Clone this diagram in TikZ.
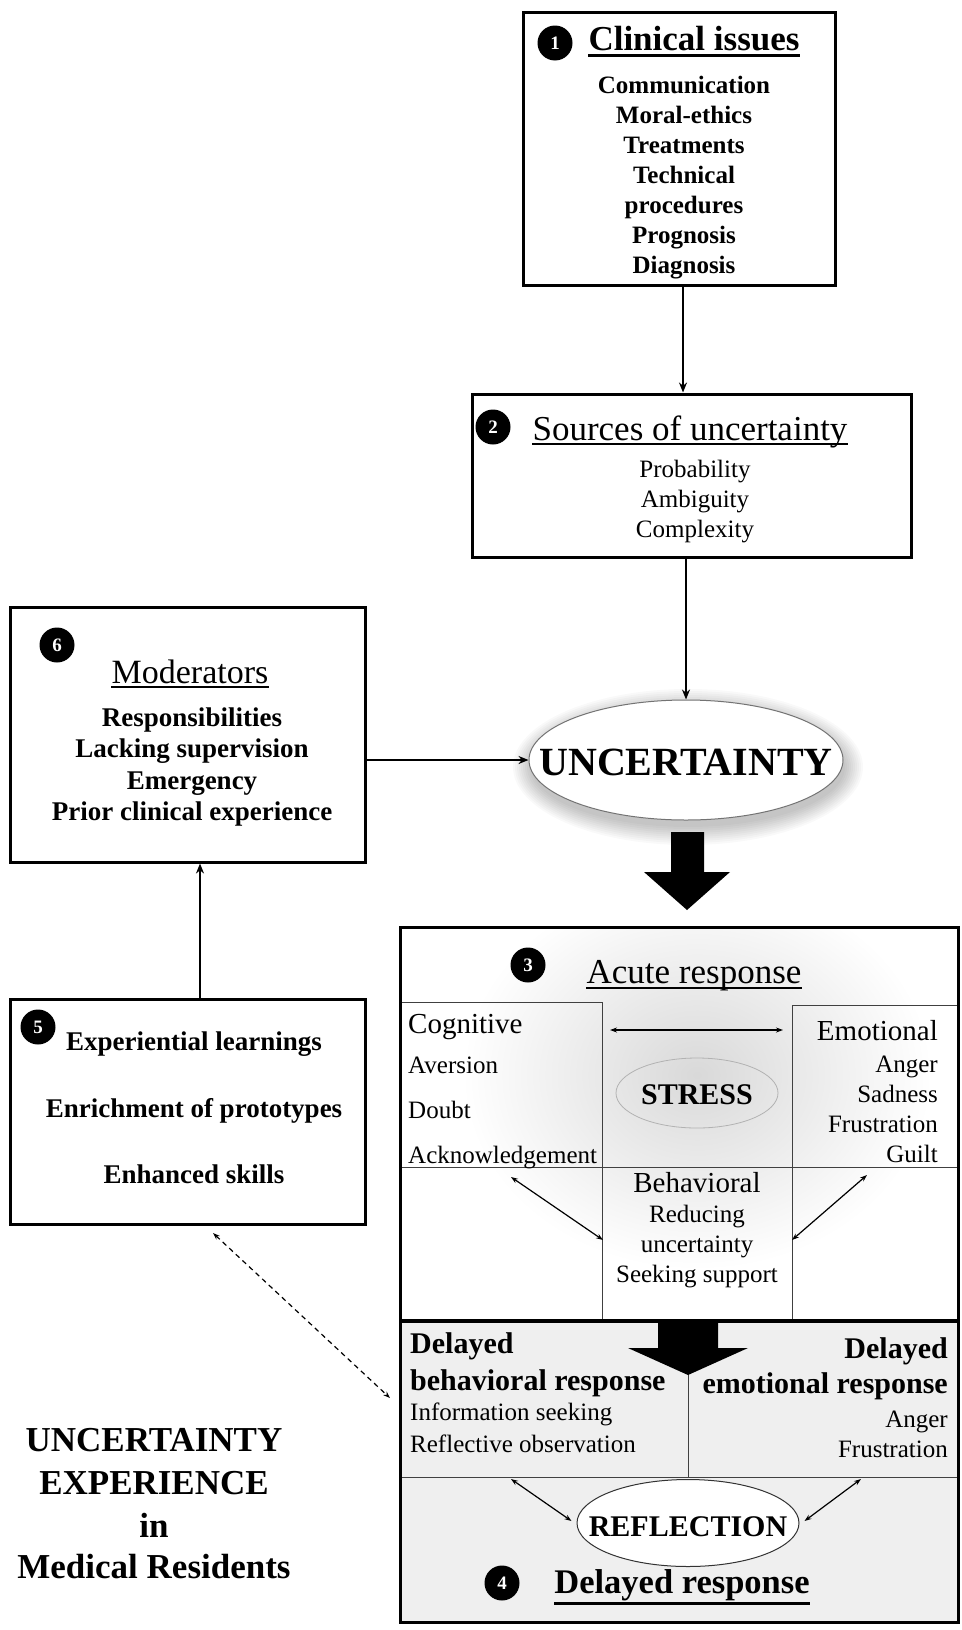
\documentclass[tikz,border=0pt]{standalone}
\usepackage{fontspec}
\setmainfont{Liberation Serif}
\usetikzlibrary{arrows.meta,shapes.geometric}
\newcommand\fsz[1]{\fontsize{#1}{#1}\selectfont}
\definecolor{delgray}{HTML}{EFEFEF}
\begin{document}
\begin{tikzpicture}[x=1pt,y=-1pt,
  box/.style={draw, line width=3pt, inner sep=0pt},
  badge/.style={circle, fill=black, text=white, inner sep=0pt, minimum size=35pt, font=\fsz{19}\bfseries},
  tb/.style={inner sep=0pt, anchor=base},
  tbl/.style={inner sep=0pt, anchor=base west},
  tbr/.style={inner sep=0pt, anchor=base east},
  ttlr/.style={font=\fsz{35}},
  ttlb/.style={font=\fsz{35}\bfseries},
  itr/.style={font=\fsz{25}},
  itb/.style={font=\fsz{25}\bfseries},
  itbb/.style={font=\fsz{27}\bfseries},
  hdr/.style={font=\fsz{29}},
  hdb/.style={font=\fsz{30}\bfseries},
  arr/.style={-{Stealth[length=10pt,width=8pt]}, line width=2pt},
  darr/.style={{Stealth[length=7pt,width=5pt]}-{Stealth[length=7pt,width=5pt]}, line width=1.2pt},
  dasharr/.style={{Stealth[length=7pt,width=5pt]}-{Stealth[length=7pt,width=5pt]}, line width=1.2pt, dash pattern=on 5pt off 4pt},
  cell/.style={line width=1pt, black!75},
  uline/.style={line width=2pt},
  ulineb/.style={line width=3pt}
]
\useasboundingbox (0,0) rectangle (961,1630);
\fill[white] (0,0) rectangle (961,1630);

% soft drop shadow of UNCERTAINTY
\foreach \k in {0,...,9}
  \fill[black, opacity=0.022] (688,767) ellipse [x radius={157+2*\k}, y radius={60+2*\k}];

% delayed section fill
\fill[delgray] (400,1321) rectangle (958,1622);
% glow in acute section
\begin{scope}
  \clip (400,927) rectangle (958,1321);
  \shade[inner color=black!15, outer color=white] (697,1075) ellipse [x radius=235pt, y radius=195pt];
\end{scope}

% ---------- Box 1 ----------
\node[box, minimum width=312pt, minimum height=273pt] (b1) at (679,148.5) {};
\node[badge] (n1) at (555,43) {1};
\node[tb, ttlb] (t1) at (694,50) {Clinical issues};
\draw[ulineb] ([yshift=-5pt]t1.base west) -- ([yshift=-5pt]t1.base east);
\foreach \t [count=\i] in {Communication, Moral-ethics, Treatments, Technical, procedures, Prognosis, Diagnosis}
  \node[tb, itb] (ci\i) at (684, 63+30*\i) {\t};

% ---------- Box 2 ----------
\node[box, minimum width=439pt, minimum height=163pt] (b2) at (691.5,475.5) {};
\node[badge] (n2) at (493,427) {2};
\node[tb, ttlr] (t2) at (690,440) {Sources of uncertainty};
\draw[uline] ([yshift=-4pt]t2.base west) -- ([yshift=-4pt]t2.base east);
\foreach \t [count=\i] in {Probability, Ambiguity, Complexity}
  \node[tb, itr] (si\i) at (695, 447+30*\i) {\t};

% ---------- UNCERTAINTY ----------
\node[ellipse, draw=black!55, line width=1pt, fill=white, minimum width=314pt, minimum height=120pt, inner sep=0pt] (u) at (686,760) {};
\node[tb, font=\fsz{40}\bfseries] (ut) at (686,775) {UNCERTAINTY};

% ---------- Box 6 ----------
\node[box, minimum width=355pt, minimum height=255pt] (b6) at (187.5,734.5) {};
\node[badge] (n6) at (57,645) {6};
\node[tb, font=\fsz{34}] (t6) at (190,683) {Moderators};
\draw[uline] ([yshift=-4pt]t6.base west) -- ([yshift=-4pt]t6.base east);
\foreach \t [count=\i] in {Responsibilities, Lacking supervision, Emergency, Prior clinical experience}
  \node[tb, itbb] (mi\i) at (192, 694.5+31.5*\i) {\t};

% ---------- Box 5 ----------
\node[box, minimum width=355pt, minimum height=225pt] (b5) at (187.5,1111.5) {};
\node[badge] (n5) at (38,1027) {5};
\node[tb, itbb] (e1) at (194,1050) {Experiential learnings};
\node[tb, itbb] (e2) at (194,1117) {Enrichment of prototypes};
\node[tb, itbb] (e3) at (194,1183) {Enhanced skills};

% ---------- Title bottom left ----------
\node[tb, ttlb] (g1) at (154,1451) {UNCERTAINTY};
\node[tb, ttlb] (g2) at (154,1494) {EXPERIENCE};
\node[tb, ttlb] (g3) at (154,1537) {in};
\node[tb, ttlb] (g4) at (154,1578) {Medical Residents};

% ---------- Acute response ----------
\draw[cell] (400,1002) -- (602,1002) -- (602,1321);
\draw[cell] (958,1005) -- (792,1005) -- (792,1321);
\draw[cell] (400,1167) -- (958,1167);
\node[badge] (n3) at (528,965) {3};
\node[tb, ttlr] (t3) at (694,983) {Acute response};
\draw[uline] ([yshift=-5pt]t3.base west) -- ([yshift=-5pt]t3.base east);

\node[tbl, hdr] (cog) at (408,1033) {Cognitive};
\node[tbl, itr] (cg1) at (408,1073) {Aversion};
\node[tbl, itr] (cg2) at (408,1118) {Doubt};
\node[tbl, itr] (cg3) at (408,1163) {Acknowledgement};

\node[tbr, hdr] (emo) at (938,1040) {Emotional};
\foreach \t [count=\i] in {Anger, Sadness, Frustration, Guilt}
  \node[tbr, itr] (em\i) at (938, 1042+30*\i) {\t};

\node[ellipse, draw=black!30, line width=0.8pt, minimum width=162pt, minimum height=70pt, inner sep=0pt] (st) at (697,1093) {};
\node[tb, hdb] (stt) at (697,1104) {STRESS};

\node[tb, hdr] (beh) at (697,1192) {Behavioral};
\foreach \t [count=\i] in {Reducing, uncertainty, Seeking support}
  \node[tb, itr] (bh\i) at (697, 1192+30*\i) {\t};

\coordinate (cogE) at (610,1030);
\coordinate (emoW) at (783,1030);
\coordinate (cogS) at (511,1177);
\coordinate (behW) at (603,1240);
\coordinate (emoS) at (867,1175);
\coordinate (behE) at (792,1240);
\draw[darr] (cogE) -- (emoW);
\draw[darr] (cogS) -- (behW);
\draw[darr] (emoS) -- (behE);

% ---------- Delayed response ----------
\draw[cell] (688,1321) -- (688,1477);
\draw[cell] (400,1477) -- (958,1477);
\node[tbl, hdb] (db1) at (410,1353) {Delayed};
\node[tbl, hdb] (db2) at (410,1390) {behavioral response};
\node[tbl, itr] (db3) at (410,1420) {Information seeking};
\node[tbl, itr] (db4) at (410,1452) {Reflective observation};
\node[tbr, hdb] (de1) at (948,1358) {Delayed};
\node[tbr, hdb] (de2) at (948,1393) {emotional response};
\node[tbr, itr] (de3) at (948,1427) {Anger};
\node[tbr, itr] (de4) at (948,1457) {Frustration};

\node[ellipse, draw=black!80, line width=1pt, fill=white, minimum width=222pt, minimum height=87pt, inner sep=0pt] (refl) at (688,1523) {};
\node[tb, hdb] (reflt) at (688,1536) {REFLECTION};

\coordinate (dbS) at (511,1479);
\coordinate (deS) at (861,1479);
\draw[darr] (dbS) -- ([xshift=-5pt,yshift=2pt]refl.west);
\draw[darr] (deS) -- ([xshift=5pt,yshift=2pt]refl.east);

\node[badge] (n4) at (502,1583) {4};
\node[tb, font=\fsz{34.5}\bfseries] (t4) at (682,1593) {Delayed response};
\draw[ulineb] ([yshift=-10pt]t4.base west) -- ([yshift=-10pt]t4.base east);

% frame of acute + delayed
\node[box, minimum width=558pt, minimum height=695pt] (big) at (679,1274.5) {};
\draw[line width=4pt] (400,1321) -- (958,1321);

% big arrows
\fill (671,832) -- (704,832) -- (704,872) -- (730,872) -- (687,910) -- (644,872) -- (671,872) -- cycle;
\fill (658,1321) -- (718,1321) -- (718,1348) -- (748,1348) -- (688,1375) -- (628,1348) -- (658,1348) -- cycle;

% ---------- connectors ----------
\draw[arr] (b1.south -| 683,0) -- (b2.north -| 683,0);
\draw[arr] (b2.south -| u.north) -- (u.north);
\draw[arr] (b6.east |- u.west) -- (u.west);
\draw[arr] ([xshift=12.5pt]b5.north) -- ([xshift=12.5pt]b6.south);
\coordinate (dA) at (213,1233);
\coordinate (dB) at (390,1398);
\draw[dasharr] (dA) -- (dB);
\end{tikzpicture}
\end{document}
